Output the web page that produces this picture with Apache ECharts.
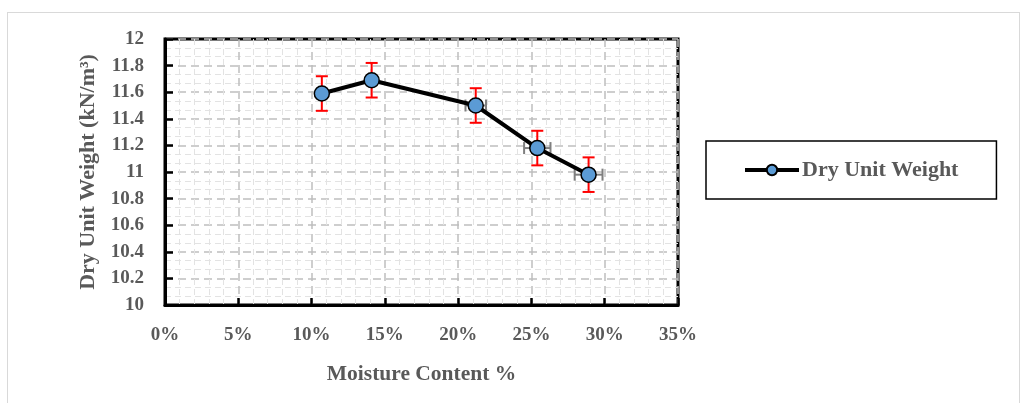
<!DOCTYPE html>
<html>
<head>
<meta charset="utf-8">
<script src="https://cdn.jsdelivr.net/npm/echarts@6/dist/echarts.min.js"></script>
<style>
  html, body { margin: 0; padding: 0; background: #fff; }
  #frame { position: absolute; left: 7px; top: 12px; width: 1013px; height: 400px; border: 1px solid #d9d9d9; box-sizing: border-box; }
  #main { position: absolute; left: 0; top: 0; width: 1025px; height: 403px; }
</style>
</head>
<body>
<div id="frame"></div>
<div id="main"></div>
<script>
// moisture content (%) vs dry unit weight (kN/m3)
var moisture = [10.7, 14.1, 21.2, 25.4, 28.9];
var dryUnitWeight = [11.59, 11.69, 11.50, 11.18, 10.98];
var yErr = [0.13, 0.13, 0.13, 0.13, 0.13];
var xErr = [0.3, 0.3, 0.7, 0.9, 0.95];

var labelFont = 'Liberation Serif';
var grey = '#595959';

var points = moisture.map(function (m, i) { return [m, dryUnitWeight[i]]; });
var errData = moisture.map(function (m, i) { return [m, dryUnitWeight[i], xErr[i], yErr[i]]; });

function renderErr(params, api) {
  var x = api.value(0), y = api.value(1), ex = api.value(2), ey = api.value(3);
  var top = api.coord([x, y + ey]), bot = api.coord([x, y - ey]);
  var lft = api.coord([x - ex, y]), rgt = api.coord([x + ex, y]);
  var cap = 6;
  var red = { stroke: '#ff0000', lineWidth: 2 };
  var gr = { stroke: '#7f7f7f', lineWidth: 2 };
  return {
    type: 'group',
    children: [
      { type: 'line', shape: { x1: lft[0], y1: lft[1], x2: rgt[0], y2: rgt[1] }, style: gr },
      { type: 'line', shape: { x1: lft[0], y1: lft[1] - cap, x2: lft[0], y2: lft[1] + cap }, style: gr },
      { type: 'line', shape: { x1: rgt[0], y1: rgt[1] - cap, x2: rgt[0], y2: rgt[1] + cap }, style: gr },
      { type: 'line', shape: { x1: top[0], y1: top[1], x2: bot[0], y2: bot[1] }, style: red },
      { type: 'line', shape: { x1: top[0] - cap, y1: top[1], x2: top[0] + cap, y2: top[1] }, style: red },
      { type: 'line', shape: { x1: bot[0] - cap, y1: bot[1], x2: bot[0] + cap, y2: bot[1] }, style: red }
    ]
  };
}

var chart = echarts.init(document.getElementById('main'));
var option = {
  animation: false,
  grid: {
    left: 165, top: 39, width: 513, height: 266,
    show: true, borderColor: '#000', borderWidth: 3, backgroundColor: 'transparent'
  },
  legend: {
    left: 706, top: 141,
    padding: [18, 38, 18, 37],
    borderColor: '#000', borderWidth: 1.5,
    itemWidth: 54, itemHeight: 13, itemGap: 10,
    lineStyle: { width: 4, color: '#000' },
    textStyle: { fontFamily: labelFont, fontWeight: 'bold', fontSize: 22, color: grey, padding: [0, 0, 0, -2] },
    data: ['Dry Unit Weight']
  },
  xAxis: {
    type: 'value', min: 0, max: 35, interval: 5,
    name: 'Moisture Content %', nameLocation: 'middle', nameGap: 58,
    nameTextStyle: { fontFamily: labelFont, fontWeight: 'bold', fontSize: 21.5, color: grey },
    axisLine: { show: true, lineStyle: { color: '#000', width: 3 } },
    axisTick: { show: true, inside: true, length: 7, lineStyle: { color: '#000', width: 2.5 } },
    axisLabel: { margin: 21, fontFamily: labelFont, fontWeight: 'bold', fontSize: 19, color: grey,
      formatter: function (v) { return v + '%'; } },
    splitLine: { show: true, lineStyle: { color: '#bfbfbf', type: [8, 5], width: 1.5 } },
    minorTick: { show: false, splitNumber: 5 },
    minorSplitLine: { show: true, lineStyle: { color: '#e3e3e3', type: [6, 4], width: 1 } }
  },
  yAxis: {
    type: 'value', min: 10, max: 12, interval: 0.2,
    name: 'Dry Unit Weight (kN/m³)', nameLocation: 'middle', nameGap: 66,
    nameTextStyle: { fontFamily: labelFont, fontWeight: 'bold', fontSize: 22, color: grey },
    axisLine: { show: true, lineStyle: { color: '#000', width: 3 } },
    axisTick: { show: true, inside: true, length: 8, lineStyle: { color: '#000', width: 2.5 } },
    axisLabel: { margin: 21, fontFamily: labelFont, fontWeight: 'bold', fontSize: 19, color: grey,
      formatter: function (v) { return +v.toFixed(1) + ''; } },
    splitLine: { show: true, lineStyle: { color: '#bfbfbf', type: [8, 5], width: 1.5 } },
    minorTick: { show: false, splitNumber: 3 },
    minorSplitLine: { show: true, lineStyle: { color: '#e3e3e3', type: [6, 4], width: 1 } }
  },
  series: [
    {
      type: 'custom', name: 'err', renderItem: renderErr, data: errData, z: 1,
      encode: { x: 0, y: 1 }
    },
    {
      type: 'line', name: 'Dry Unit Weight', data: points, z: 3,
      symbol: 'circle', symbolSize: 15,
      lineStyle: { color: '#000', width: 4 },
      itemStyle: { color: '#5b9bd5', borderColor: '#000', borderWidth: 1.5 }
    }
  ]
};
chart.setOption(option);
</script>
</body>
</html>
